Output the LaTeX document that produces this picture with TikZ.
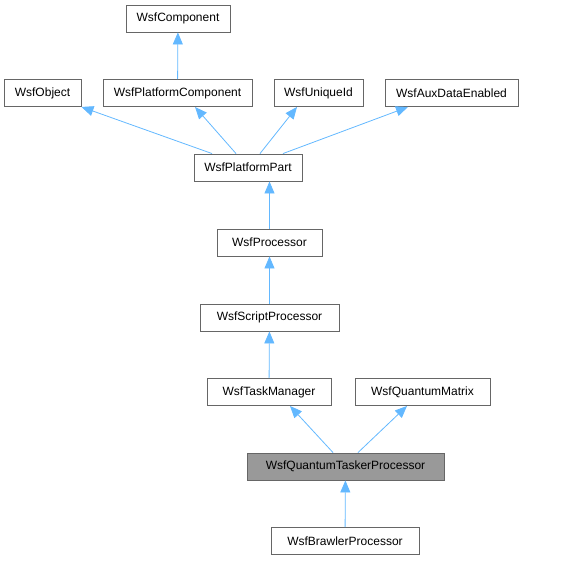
\documentclass[tikz,border=0pt]{standalone}
\usepackage{fontspec}
\setmainfont{Liberation Sans}
\usetikzlibrary{arrows.meta,calc}
\definecolor{edgeblue}{RGB}{99,184,255}
\definecolor{boxline}{RGB}{102,102,102}
\definecolor{boxhl}{RGB}{153,153,153}
\begin{document}
\begin{tikzpicture}[x=1pt,y=-1pt,
  cls/.style={draw=boxline,fill=white,line width=0.9pt,minimum height=27pt,inner sep=0pt,font=\fontsize{12}{14}\selectfont},
  hl/.style={cls,fill=boxhl},
  inh/.style={draw=edgeblue,line width=0.8pt,-{Triangle[length=12pt,width=10pt]}}]
\useasboundingbox (0,0) rectangle (568,560);
\node[cls,minimum width=104pt] (comp) at (178,18.5) {WsfComponent};
\node[cls,minimum width=77pt] (obj) at (42.5,93) {WsfObject};
\node[cls,minimum width=149pt] (pcomp) at (177.5,93) {WsfPlatformComponent};
\node[cls,minimum width=89pt] (uid) at (318.5,93) {WsfUniqueId};
\node[cls,minimum width=133pt] (aux) at (451.5,93) {WsfAuxDataEnabled};
\node[cls,minimum width=108pt] (ppart) at (248,167.5) {WsfPlatformPart};
\node[cls,minimum width=105pt] (proc) at (269.5,242.5) {WsfProcessor};
\node[cls,minimum width=139pt] (sproc) at (269.5,317.5) {WsfScriptProcessor};
\node[cls,minimum width=124pt] (task) at (269,392) {WsfTaskManager};
\node[cls,minimum width=135pt] (qmat) at (422.5,392) {WsfQuantumMatrix};
\node[hl,minimum width=197pt] (qtp) at (345.5,466.5) {WsfQuantumTaskerProcessor};
\node[cls,minimum width=148pt] (brawl) at (345,541) {WsfBrawlerProcessor};
\draw[inh] (pcomp) -- (comp);
\draw[inh] ($(ppart.north)+(-36,0)$) -- (obj.south east);
\draw[inh] ($(ppart.north)+(-12,0)$) -- ($(pcomp.south)+(17.5,0)$);
\draw[inh] ($(ppart.north)+(12,0)$) -- ($(uid.south)+(-21.5,0)$);
\draw[inh] ($(ppart.north)+(35,0)$) -- ($(aux.south)+(-43.5,0)$);
\draw[inh] (proc.north) -- (proc.north |- ppart.south);
\draw[inh] (sproc) -- (proc);
\draw[inh] (task) -- (sproc);
\draw[inh] ($(qtp.north)+(-12.5,0)$) -- ($(task.south)+(21,0)$);
\draw[inh] ($(qtp.north)+(12.5,0)$) -- ($(qmat.south)+(-15.5,0)$);
\draw[inh] (brawl) -- (qtp);
\end{tikzpicture}
\end{document}
